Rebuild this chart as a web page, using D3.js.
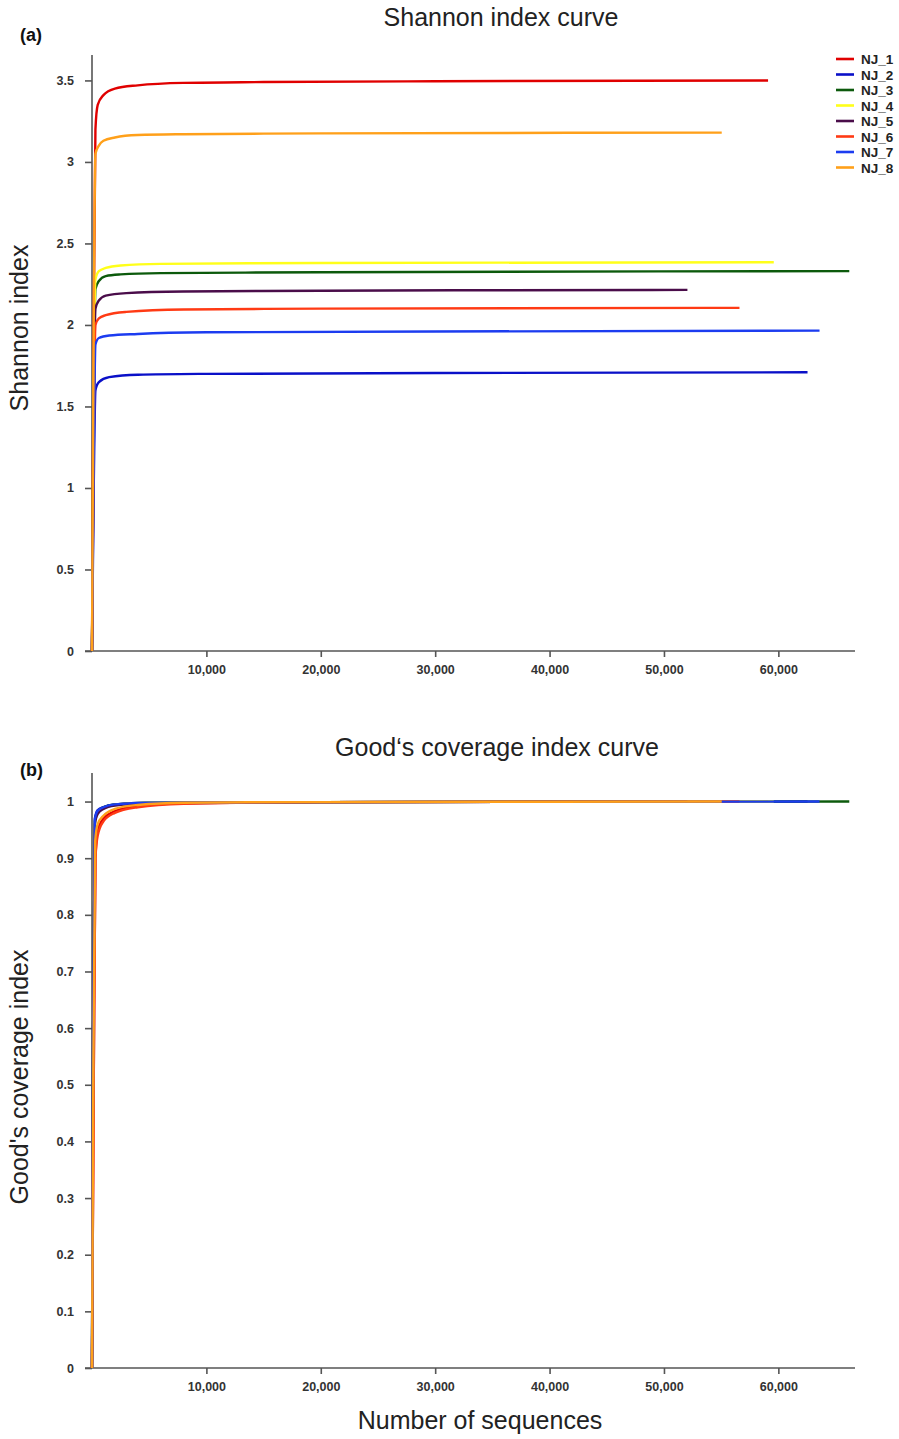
<!DOCTYPE html>
<html><head><meta charset="utf-8">
<script src="https://cdn.jsdelivr.net/npm/d3@7"></script>
<style>body{margin:0;background:#fff}svg{display:block}text{font-family:"Liberation Sans",Arial,sans-serif}</style>
</head><body>
<svg id="c" width="899" height="1439"></svg>
<script>
const seriesNames = ["NJ_1","NJ_2","NJ_3","NJ_4","NJ_5","NJ_6","NJ_7","NJ_8"];
const seriesColors = ["#e00000","#0a10c8","#0c5a0c","#ffff1a","#4a0d4a","#ff3a14","#1c3cf0","#ffa01a"];
const xTicks = [10000,20000,30000,40000,50000,60000];
const shannonTicks = [0,0.5,1,1.5,2,2.5,3,3.5];
const goodsTicks = [0,0.1,0.2,0.3,0.4,0.5,0.6,0.7,0.8,0.9,1];

const shannonNJ1 = [[0,0],[150,2.0],[300,3.2],[500,3.35],[1000,3.41],[2000,3.45],[4000,3.47],[8000,3.485],[15000,3.49],[30000,3.495],[59100,3.5]];
const shannonNJ2 = [[0,0],[150,1.0],[300,1.6],[600,1.65],[1500,1.68],[4000,1.695],[10000,1.7],[30000,1.705],[62550,1.71]];
const shannonNJ3 = [[0,0],[150,1.5],[300,2.22],[600,2.27],[1200,2.3],[2500,2.31],[6000,2.318],[20000,2.323],[66200,2.33]];
const shannonNJ4 = [[0,0],[150,1.6],[300,2.28],[600,2.33],[1200,2.35],[2500,2.365],[6000,2.375],[20000,2.38],[59600,2.385]];
const shannonNJ5 = [[0,0],[150,1.4],[300,2.1],[600,2.15],[1200,2.18],[3000,2.195],[8000,2.205],[20000,2.21],[52050,2.215]];
const shannonNJ6 = [[0,0],[150,1.3],[300,2.0],[600,2.04],[1200,2.06],[3000,2.08],[8000,2.095],[20000,2.1],[56600,2.105]];
const shannonNJ7 = [[0,0],[150,1.2],[300,1.88],[600,1.92],[1500,1.935],[4000,1.945],[10000,1.955],[30000,1.96],[63600,1.965]];
const shannonNJ8 = [[0,0],[150,2.0],[300,3.05],[600,3.1],[1000,3.13],[2000,3.15],[4000,3.165],[8000,3.17],[20000,3.175],[55050,3.18]];

const goodsNJ1 = [[0,0],[150,0.5],[300,0.9],[500,0.95],[1000,0.97],[2000,0.983],[4000,0.992],[8000,0.997],[20000,0.999],[59100,1.0]];
const goodsNJ2 = [[0,0],[100,0.6],[250,0.97],[500,0.985],[1000,0.99],[2000,0.995],[5000,0.998],[20000,0.999],[62550,1.0]];
const goodsNJ3 = [[0,0],[100,0.6],[250,0.965],[500,0.982],[1000,0.99],[2000,0.995],[5000,0.998],[20000,0.999],[66200,1.0]];
const goodsNJ4 = [[0,0],[100,0.58],[250,0.96],[500,0.98],[1000,0.988],[2000,0.994],[5000,0.998],[20000,0.999],[59600,1.0]];
const goodsNJ5 = [[0,0],[100,0.58],[250,0.96],[500,0.978],[1000,0.987],[2000,0.993],[5000,0.997],[20000,0.999],[52050,1.0]];
const goodsNJ6 = [[0,0],[150,0.5],[300,0.9],[500,0.94],[1000,0.965],[2000,0.98],[4000,0.99],[8000,0.996],[20000,0.999],[56600,1.0]];
const goodsNJ7 = [[0,0],[100,0.6],[250,0.968],[500,0.984],[1000,0.99],[2000,0.995],[5000,0.998],[20000,0.999],[63600,1.0]];
const goodsNJ8 = [[0,0],[120,0.55],[280,0.93],[500,0.96],[1000,0.975],[2000,0.987],[4000,0.994],[8000,0.998],[20000,0.999],[55050,1.0]];

const shannonData = [shannonNJ1,shannonNJ2,shannonNJ3,shannonNJ4,shannonNJ5,shannonNJ6,shannonNJ7,shannonNJ8];
const goodsData = [goodsNJ1,goodsNJ2,goodsNJ3,goodsNJ4,goodsNJ5,goodsNJ6,goodsNJ7,goodsNJ8];

const svg = d3.select("#c");
const axisColor = "#555";
const tickColor = "#333";

function panel(opts){
  const x = d3.scaleLinear().domain([0,66700]).range([92,855]);
  const y = d3.scaleLinear().domain(opts.yDomain).range(opts.yRange);
  const g = svg.append("g");
  const xa = g.append("g").attr("transform",`translate(0,${opts.yRange[0]})`)
    .call(d3.axisBottom(x).tickValues(xTicks).tickFormat(d3.format(",")).tickSize(6).tickSizeOuter(0));
  xa.select(".domain").remove();
  g.append("line").attr("x1",85).attr("x2",855).attr("y1",opts.yRange[0]).attr("y2",opts.yRange[0])
    .attr("stroke",axisColor).attr("stroke-width",1.6);
  xa.selectAll(".tick line").attr("stroke",axisColor).attr("stroke-width",1.6);
  xa.selectAll(".tick text").attr("fill",tickColor).attr("font-size",12.5).attr("font-weight","bold").attr("dy","1.1em");
  const ya = g.append("g").attr("transform","translate(92,0)")
    .call(d3.axisLeft(y).tickValues(opts.yTicks).tickFormat(d=>String(d)).tickSize(7).tickSizeOuter(0).tickPadding(11));
  ya.select(".domain").remove();
  g.append("line").attr("x1",92).attr("x2",92).attr("y1",opts.yRange[0]).attr("y2",opts.yRange[1])
    .attr("stroke",axisColor).attr("stroke-width",1.6);
  ya.selectAll(".tick line").attr("stroke",axisColor).attr("stroke-width",1.6);
  ya.selectAll(".tick text").attr("fill",tickColor).attr("font-size",12.5).attr("font-weight","bold");
  const line = d3.line().x(d=>x(d[0])).y(d=>y(d[1])).curve(d3.curveMonotoneX);
  opts.data.forEach((s,i)=>{
    g.append("path").attr("d",line(s)).attr("fill","none")
      .attr("stroke",seriesColors[i]).attr("stroke-width",2.4).attr("stroke-linejoin","round");
  });
  g.append("text").attr("x",opts.titleX).attr("y",opts.titleY).attr("text-anchor","middle")
    .attr("font-size",25).attr("fill","#222").text(opts.title);
  g.append("text").attr("x",20).attr("y",opts.tagY).attr("font-size",18).attr("font-weight","bold")
    .attr("fill","#111").text(opts.tag);
  g.append("text").attr("transform",`translate(28,${opts.ylabY}) rotate(-90)`).attr("text-anchor","middle")
    .attr("font-size",25).attr("fill","#222").text(opts.ylab);
  return {x,y};
}

panel({yDomain:[0,3.656],yRange:[651,55],yTicks:shannonTicks,data:shannonData,
  title:"Shannon index curve",titleX:501,titleY:26,tag:"(a)",tagY:41,ylab:"Shannon index",ylabY:328});
panel({yDomain:[0,1.0504],yRange:[1368,773],yTicks:goodsTicks,data:goodsData,
  title:"Good\u2018s coverage index curve",titleX:497,titleY:756,tag:"(b)",tagY:776,ylab:"Good's coverage index",ylabY:1077});

svg.append("text").attr("x",480).attr("y",1429).attr("text-anchor","middle")
  .attr("font-size",25).attr("fill","#222").text("Number of sequences");

const leg = svg.append("g");
seriesNames.forEach((n,i)=>{
  const yy = 59 + i*15.5;
  leg.append("line").attr("x1",836).attr("x2",854).attr("y1",yy).attr("y2",yy)
    .attr("stroke",seriesColors[i]).attr("stroke-width",2.6);
  leg.append("text").attr("x",861).attr("y",yy+5).attr("font-size",13.5).attr("font-weight","bold")
    .attr("fill","#222").text(n);
});
</script>
</body></html>
